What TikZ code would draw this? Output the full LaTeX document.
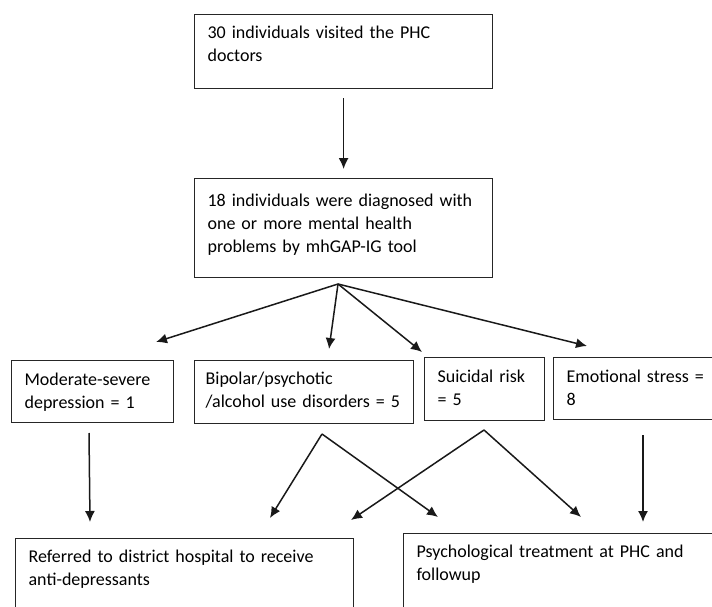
\documentclass[tikz,border=0pt]{standalone}
\usepackage{fontspec}
\setmainfont{Carlito}
\usetikzlibrary{arrows.meta}

\tikzset{
  box/.style={draw=black!85, line width=1.2pt, anchor=north west, align=left,
    inner xsep=13pt, inner ysep=8pt, text height=16pt,
    font=\fontsize{18}{23}\selectfont},
  arr/.style={-{Latex[length=11pt,width=10pt]}, line width=1.5pt, black!90},
}

\begin{document}
\begin{tikzpicture}[x=1pt, y=-1pt]
      \useasboundingbox (0,0) rectangle (712,607);

      \node[box, text width=272pt, text depth=42pt] (visit) at (194,14)
        {30 individuals visited the PHC\\doctors};
      \node[box, text width=272pt, text height=20pt, text depth=63pt] (diag) at (194,178)
        {18 individuals were diagnosed with\\one or more mental health\\problems by mhGAP-IG tool};

      \node[box, text width=136pt, text height=17pt, text depth=29pt] (depr) at (11,360)
        {Moderate-severe\\depression = 1};
      \node[box, inner xsep=11pt, text width=197pt, text depth=31pt] (bipol) at (194,360)
        {Bipolar/psychotic\\/alcohol use disorders = 5};
      \node[box, text width=94pt, text height=17pt, text depth=30pt] (suic) at (424,357)
        {Suicidal risk\\= 5};
      \node[box, text width=144pt, text height=17pt, text depth=29pt] (emot) at (553,357)
        {Emotional stress =\\8};

      \node[box, text width=312pt, text depth=60pt] (refer) at (15,538)
        {Referred to district hospital to receive\\anti-depressants};
      \node[box, text width=314pt, text depth=60pt] (psych) at (403,533)
        {Psychological treatment at PHC and\\followup};

      % free ends of the arrows
      \coordinate (fan) at (338,284);
      \coordinate (depr-in) at (156,342);
      \coordinate (bipol-in) at (329,349);
      \coordinate (suic-in) at (422,352);
      \coordinate (emot-in) at (587,346);

      \coordinate (depr-out) at (89,433);
      \coordinate (bipol-out) at (322,434);
      \coordinate (suic-out) at (484,430);
      \coordinate (emot-out) at (643,435);

      \coordinate (refer-a) at (90,522);
      \coordinate (refer-b) at (270,518);
      \coordinate (refer-c) at (351,520);
      \coordinate (psych-a) at (438,517);
      \coordinate (psych-b) at (581,517);
      \coordinate (psych-c) at (643,522);

      \draw[arr, shorten <=9pt, shorten >=9pt] (visit) -- (diag);
      \foreach \t in {depr-in, bipol-in, suic-in, emot-in}
        \draw[arr] (fan) -- (\t);

      \draw[arr] (depr-out) -- (refer-a);
      \draw[arr] (bipol-out) -- (refer-b);
      \draw[arr] (bipol-out) -- (psych-a);
      \draw[arr] (suic-out) -- (refer-c);
      \draw[arr] (suic-out) -- (psych-b);
      \draw[arr] (emot-out) -- (psych-c);
    \end{tikzpicture}
\end{document}
